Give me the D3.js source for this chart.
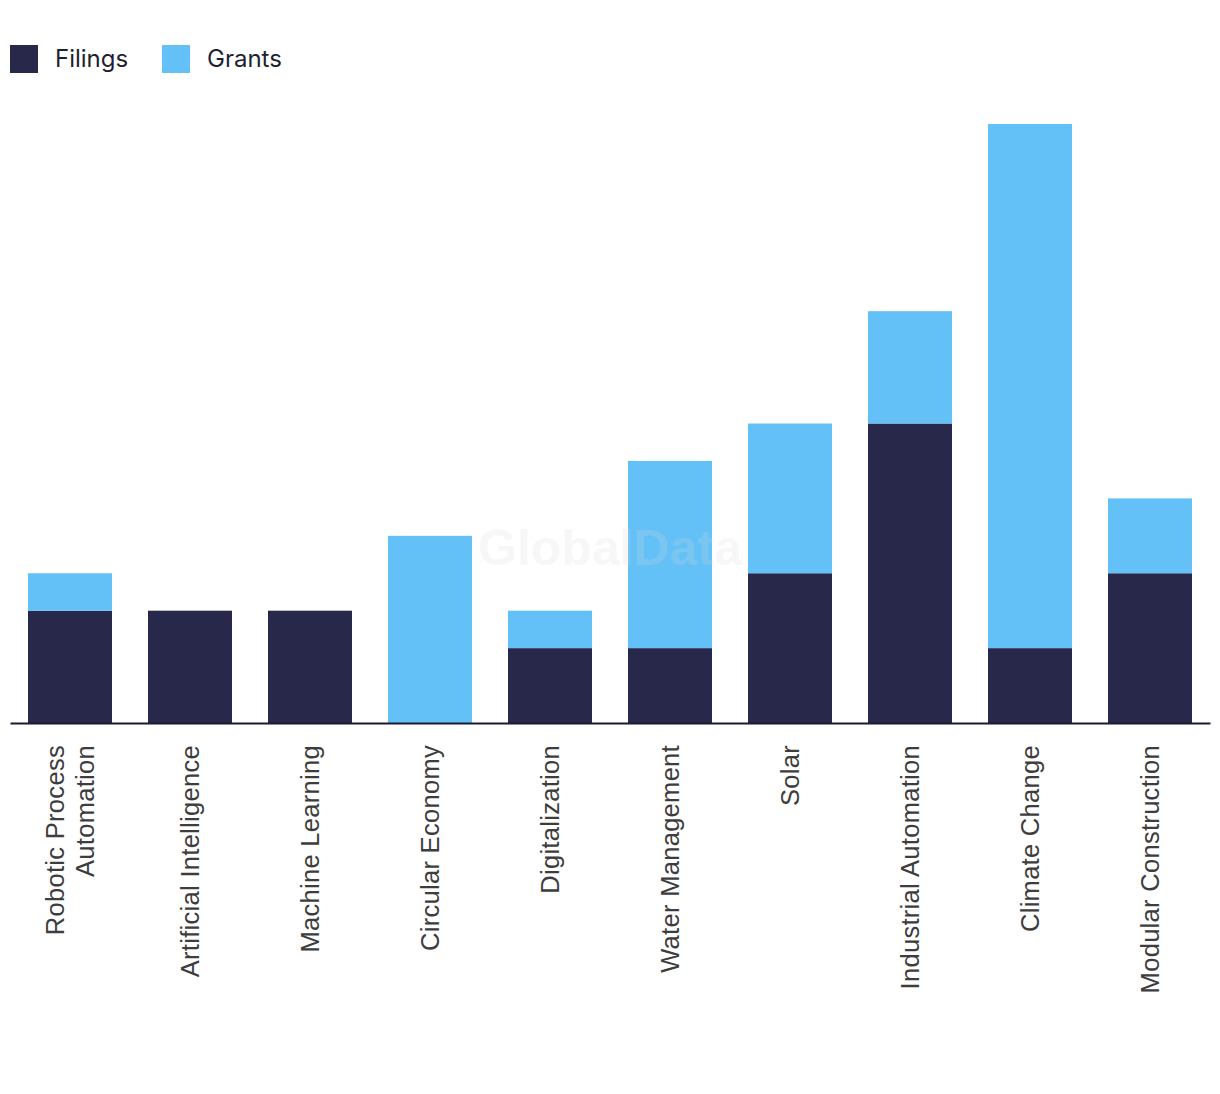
<!DOCTYPE html>
<html>
<head>
<meta charset="utf-8">
<script src="https://cdn.jsdelivr.net/npm/d3@7"></script>
<style>
  html, body { margin: 0; padding: 0; background: #ffffff; }
  svg { display: block; }
</style>
</head>
<body>
<svg id="chart" width="1220" height="1094"></svg>
<script>
const categories = [
  ["Robotic Process", "Automation"],
  ["Artificial Intelligence"],
  ["Machine Learning"],
  ["Circular Economy"],
  ["Digitalization"],
  ["Water Management"],
  ["Solar"],
  ["Industrial Automation"],
  ["Climate Change"],
  ["Modular Construction"]
];
const filings = [3, 3, 3, 0, 2, 2, 4, 8, 2, 4];
const grants  = [1, 0, 0, 5, 1, 5, 4, 3, 14, 2];
const seriesNames = ["Filings", "Grants"];
const colors = ["#28284b", "#64c1f8"];

const svg = d3.select("#chart");
const keys = categories.map(c => c.join(" "));
const rows = keys.map((k, i) => ({ key: k, Filings: filings[i], Grants: grants[i] }));
const stacked = d3.stack().keys(seriesNames)(rows);

const x = d3.scaleBand().domain(keys).range([10, 1210]).paddingInner(0.3).paddingOuter(0.15);
const y = d3.scaleLinear().domain([0, 16]).range([723, 124]);

// bars
svg.append("g").selectAll("g").data(stacked).join("g")
  .attr("fill", (d, i) => colors[i])
  .selectAll("rect").data(d => d).join("rect")
  .attr("x", d => x(d.data.key))
  .attr("width", x.bandwidth())
  .attr("y", d => y(d[1]))
  .attr("height", d => y(d[0]) - y(d[1]));

// watermark
svg.append("text")
  .attr("x", 610).attr("y", 565)
  .attr("text-anchor", "middle")
  .attr("font-family", "Liberation Sans, Arial, sans-serif")
  .attr("font-weight", "bold")
  .attr("font-size", 50)
  .attr("fill", "#d8d8d8")
  .attr("fill-opacity", 0.2)
  .text("GlobalData");

// x axis
const xAxis = d3.axisBottom(x).tickSize(0).tickFormat("");
const gx = svg.append("g").attr("transform", "translate(0,723)").call(xAxis);
gx.select(".domain").attr("stroke", "#1a1a2e").attr("stroke-width", 2);

// rotated labels
const lab = svg.append("g");
categories.forEach((lines, i) => {
  const cx = x(keys[i]) + x.bandwidth() / 2;
  const lh = 30;
  const n = lines.length;
  const t = lab.append("text")
    .attr("transform", `translate(${cx},745) rotate(-90)`)
    .attr("text-anchor", "end")
    .attr("font-family", "Liberation Sans, Arial, sans-serif")
    .attr("font-size", 25.5)
    .attr("letter-spacing", 0.3)
    .attr("fill", "#3d3d3d");
  lines.forEach((ln, j) => {
    const off = (j - (n - 1) / 2) * lh;
    t.append("tspan").attr("x", 0).attr("y", off).attr("dy", "0.35em").text(ln);
  });
});

// legend
const leg = svg.append("g");
const legX = [10, 162];
seriesNames.forEach((s, i) => {
  leg.append("rect").attr("x", legX[i]).attr("y", 45).attr("width", 28).attr("height", 28).attr("fill", colors[i]);
  leg.append("text").attr("x", legX[i] + 45).attr("y", 59).attr("dy", "0.35em")
    .attr("font-family", "Inter, sans-serif").attr("font-size", 24).attr("fill", "#1f1f33")
    .text(s);
});
</script>
</body>
</html>
